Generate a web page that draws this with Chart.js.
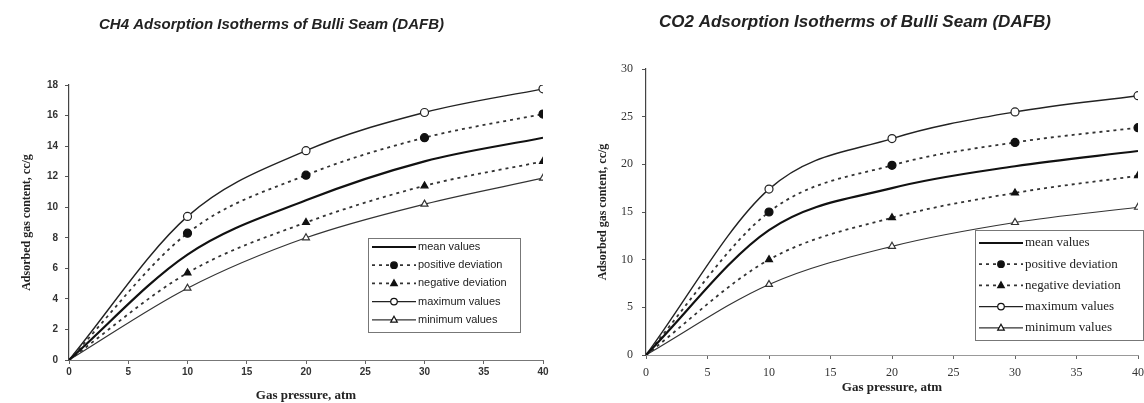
<!DOCTYPE html>
<html>
<head>
<meta charset="utf-8">
<script src="https://cdn.jsdelivr.net/npm/chart.js@4/dist/chart.umd.min.js"></script>
<style>
  body { margin: 0; background: #fff; }
  .panel { position: absolute; top: 0; width: 572px; height: 403px; }
  #left { left: 0; }
  #right { left: 572px; }
</style>
</head>
<body>
<div class="panel" id="left"><canvas id="ch4" width="572" height="403"></canvas></div>
<div class="panel" id="right"><canvas id="co2" width="572" height="403"></canvas></div>
<script>
// gas pressure, atm
const pressure = [0, 10, 20, 30, 40];

// CH4 adsorbed gas content, cc/g
const ch4Mean = [0, 6.9, 10.45, 13.0, 14.55];
const ch4Pos = [0, 8.3, 12.1, 14.55, 16.1];
const ch4Neg = [0, 5.7, 9.0, 11.4, 13.0];
const ch4Max = [0, 9.4, 13.7, 16.2, 17.75];
const ch4Min = [0, 4.7, 8.0, 10.2, 11.9];

// CO2 adsorbed gas content, cc/g
const co2Mean = [0, 13.1, 17.5, 19.8, 21.4];
const co2Pos = [0, 15.0, 19.9, 22.3, 23.85];
const co2Neg = [0, 10.0, 14.4, 17.0, 18.8];
const co2Max = [0, 17.4, 22.7, 25.5, 27.2];
const co2Min = [0, 7.4, 11.4, 13.9, 15.5];

const seriesLabels = [
  "mean values",
  "positive deviation",
  "negative deviation",
  "maximum values",
  "minimum values",
];

function toPoints(values) {
  return values.map((v, i) => ({ x: pressure[i], y: v }));
}

function buildDatasets(mean, pos, neg, max, min) {
  const common = {
    cubicInterpolationMode: "monotone",
    pointRadius: (c) => (c.dataIndex === 0 ? 0 : 4),
    pointBorderWidth: 1.2,
    fill: false,
  };
  return [
    { ...common, label: seriesLabels[0], data: toPoints(mean),
      borderColor: "#111", borderWidth: 2.2, pointRadius: 0, marker: null },
    { ...common, label: seriesLabels[1], data: toPoints(pos),
      borderColor: "#333", borderWidth: 1.8, borderDash: [3, 4],
      pointStyle: "circle", pointBackgroundColor: "#111", pointBorderColor: "#111",
      marker: { style: "circle", fill: "#111" } },
    { ...common, label: seriesLabels[2], data: toPoints(neg),
      borderColor: "#333", borderWidth: 1.8, borderDash: [3, 4],
      pointStyle: "triangle", pointBackgroundColor: "#111", pointBorderColor: "#111",
      marker: { style: "triangle", fill: "#111" } },
    { ...common, label: seriesLabels[3], data: toPoints(max),
      borderColor: "#222", borderWidth: 1.4,
      pointStyle: "circle", pointBackgroundColor: "#fff", pointBorderColor: "#222",
      marker: { style: "circle", fill: "#fff" } },
    { ...common, label: seriesLabels[4], data: toPoints(min),
      borderColor: "#333", borderWidth: 1.2,
      pointStyle: "triangle", pointBackgroundColor: "#fff", pointBorderColor: "#333",
      marker: { style: "triangle", fill: "#fff" } },
  ];
}

function drawMarker(ctx, marker, x, y, r) {
  ctx.save();
  ctx.setLineDash([]);
  ctx.lineWidth = 1.2;
  ctx.strokeStyle = "#111";
  ctx.fillStyle = marker.fill;
  ctx.beginPath();
  if (marker.style === "circle") {
    ctx.arc(x, y, r, 0, Math.PI * 2);
  } else {
    ctx.moveTo(x, y - r * 1.1);
    ctx.lineTo(x + r, y + r * 0.7);
    ctx.lineTo(x - r, y + r * 0.7);
    ctx.closePath();
  }
  ctx.fill();
  ctx.stroke();
  ctx.restore();
}

// legend drawn inside the plot area, like the original figure
const boxLegend = {
  id: "boxLegend",
  afterDraw(chart, args, opts) {
    const ctx = chart.ctx;
    ctx.save();
    ctx.fillStyle = "#fff";
    ctx.fillRect(opts.x, opts.y, opts.w, opts.h);
    ctx.strokeStyle = "#777";
    ctx.lineWidth = 1;
    ctx.strokeRect(opts.x + 0.5, opts.y + 0.5, opts.w, opts.h);
    chart.data.datasets.forEach((ds, i) => {
      const y = opts.y + opts.first + i * opts.step;
      const x0 = opts.x + 4;
      const x1 = opts.x + opts.sample;
      ctx.strokeStyle = ds.borderColor;
      ctx.lineWidth = ds.borderWidth;
      ctx.setLineDash(ds.borderDash || []);
      ctx.beginPath();
      ctx.moveTo(x0, y);
      ctx.lineTo(x1, y);
      ctx.stroke();
      if (ds.marker) drawMarker(ctx, ds.marker, (x0 + x1) / 2, y, 3.3);
      ctx.setLineDash([]);
      ctx.fillStyle = "#222";
      ctx.font = opts.font;
      ctx.textBaseline = "middle";
      ctx.fillText(ds.label, x1 + 2, y);
    });
    ctx.restore();
  },
};

function zeroPadding(scale) {
  scale.paddingLeft = 0;
  scale.paddingRight = 0;
  scale.paddingTop = 0;
  scale.paddingBottom = 0;
}

function makeChart(id, cfg) {
  const ctx = document.getElementById(id).getContext("2d");
  return new Chart(ctx, {
    type: "line",
    data: { datasets: cfg.datasets },
    plugins: [boxLegend],
    options: {
      responsive: false,
      animation: false,
      layout: { padding: { left: 0, right: cfg.padRight, top: 0, bottom: 0 } },
      plugins: {
        legend: { display: false },
        tooltip: { enabled: false },
        title: {
          display: true,
          text: cfg.title,
          color: "#222",
          font: { family: "Liberation Sans", size: cfg.titleSize, style: "italic", weight: "bold" },
          padding: cfg.titlePad,
        },
        boxLegend: cfg.legend,
      },
      scales: {
        x: {
          type: "linear",
          min: 0,
          max: 40,
          afterFit: (s) => { s.height = cfg.xHeight; zeroPadding(s); },
          ticks: {
            stepSize: 5,
            padding: cfg.xTickPad,
            color: "#333",
            maxRotation: 0,
            font: cfg.tickFont,
          },
          grid: { drawOnChartArea: false, tickLength: 4, color: "#666" },
          border: { color: cfg.xAxisColor, width: 1, dash: cfg.xAxisDash },
          title: {
            display: true,
            text: "Gas pressure, atm",
            color: "#222",
            font: { family: "Liberation Serif", size: 13, weight: "bold" },
            padding: { top: 0, bottom: cfg.xTitleBottom },
          },
        },
        y: {
          min: 0,
          max: cfg.yMax,
          afterFit: (s) => { s.width = cfg.yWidth; zeroPadding(s); },
          ticks: {
            stepSize: cfg.yStep,
            padding: cfg.yTickPad,
            color: "#333",
            font: cfg.tickFont,
          },
          grid: { drawOnChartArea: false, tickLength: 4, color: "#555" },
          border: { color: "#444", width: 1.2 },
          title: {
            display: true,
            text: "Adsorbed gas content, cc/g",
            color: "#222",
            font: { family: "Liberation Serif", size: 12, weight: "bold" },
            padding: { top: cfg.yTitleTop, bottom: 0 },
          },
        },
      },
    },
  });
}

makeChart("ch4", {
  datasets: buildDatasets(ch4Mean, ch4Pos, ch4Neg, ch4Max, ch4Min),
  title: "CH4 Adsorption Isotherms of Bulli Seam (DAFB)",
  titleSize: 15,
  titlePad: { top: 16, bottom: 51 },
  padRight: 29,
  xHeight: 43,
  xTickPad: 2,
  xTitleBottom: 0,
  xAxisColor: "#777",
  xAxisDash: [],
  yWidth: 69,
  yMax: 18,
  yStep: 2,
  yTickPad: 7,
  yTitleTop: 20,
  tickFont: { family: "Liberation Sans", size: 10, weight: "bold" },
  legend: {
    x: 368, y: 238, w: 152, h: 94, first: 9, step: 18.2, sample: 48,
    font: "11px 'Liberation Sans'",
  },
});

makeChart("co2", {
  datasets: buildDatasets(co2Mean, co2Pos, co2Neg, co2Max, co2Min),
  title: "CO2 Adsorption Isotherms of Bulli Seam (DAFB)",
  titleSize: 17,
  titlePad: { top: 11.8, bottom: 36.8 },
  padRight: 6,
  xHeight: 48,
  xTickPad: 7,
  xTitleBottom: 8,
  xAxisColor: "#999",
  xAxisDash: [8, 3],
  yWidth: 74,
  yMax: 30,
  yStep: 5,
  yTickPad: 9,
  yTitleTop: 24,
  tickFont: { family: "Liberation Serif", size: 12 },
  legend: {
    x: 403, y: 230, w: 168, h: 110, first: 13, step: 21.2, sample: 48,
    font: "13px 'Liberation Serif'",
  },
});
</script>
</body>
</html>
